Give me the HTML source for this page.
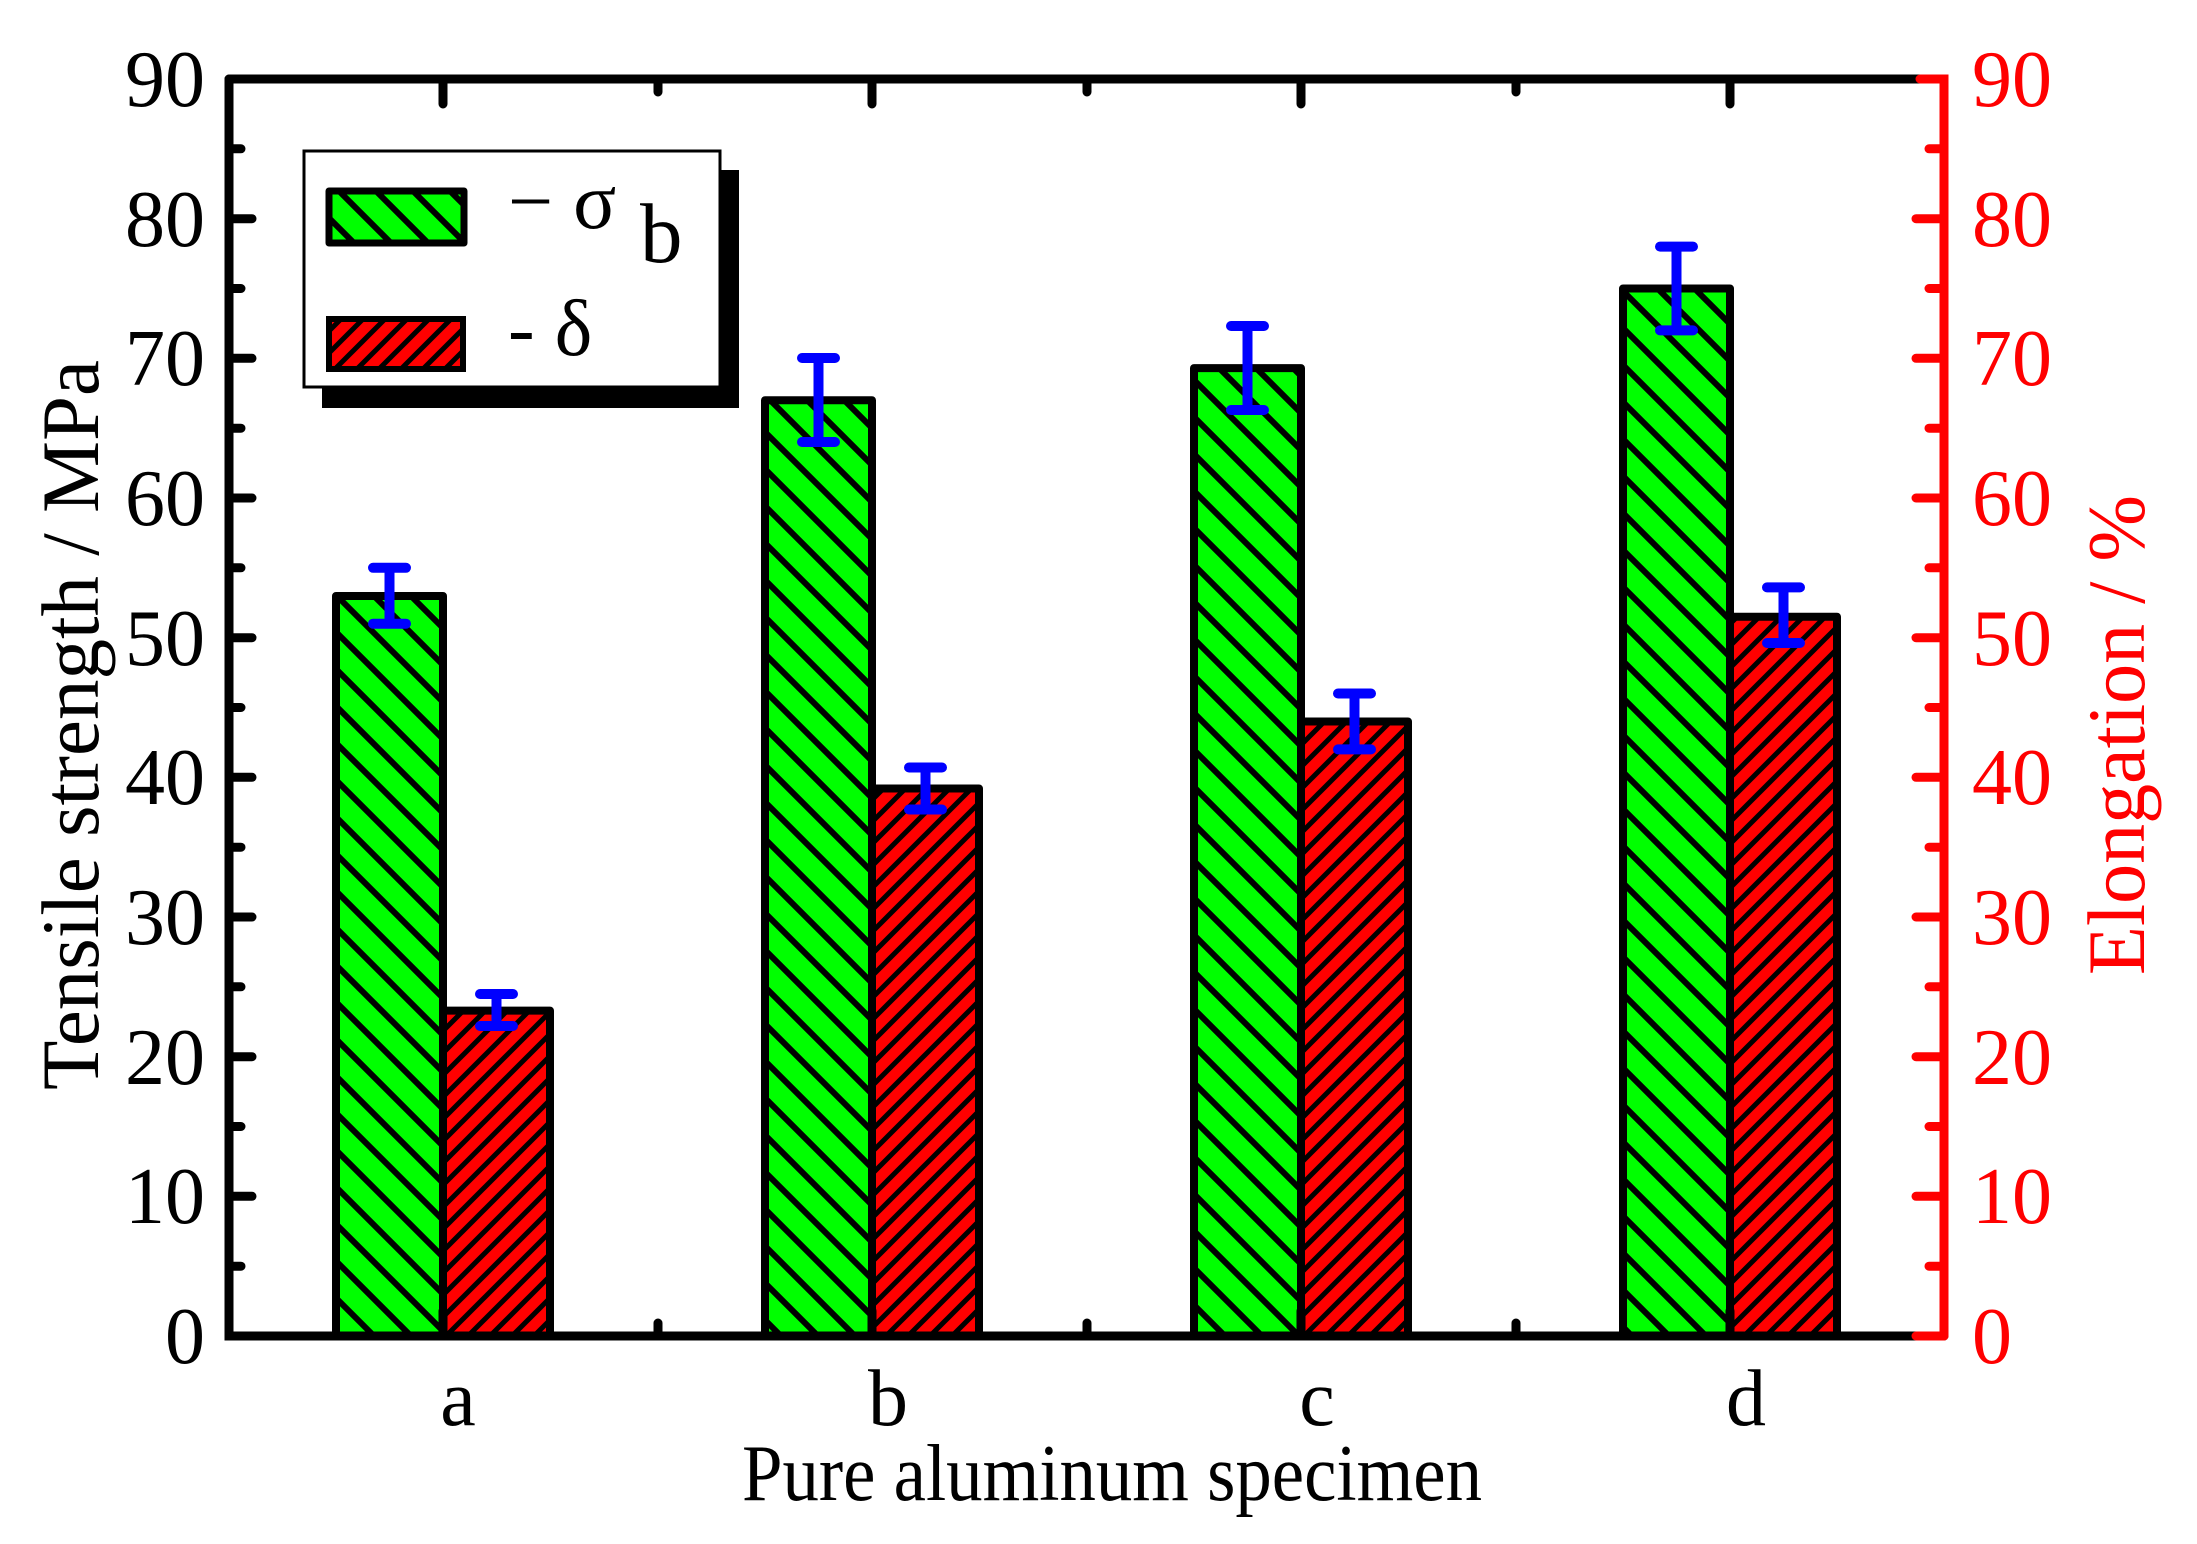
<!DOCTYPE html>
<html><head><meta charset="utf-8"><style>
html,body{margin:0;padding:0;background:#fff;}
svg{display:block;}
text{font-family:"Liberation Serif","Times New Roman",serif;}
</style></head><body>
<svg width="2197" height="1544" viewBox="0 0 2197 1544" xmlns="http://www.w3.org/2000/svg">
<defs>
<pattern id="hg" patternUnits="userSpaceOnUse" width="37" height="37">
<rect width="37" height="37" fill="#00ff00"/>
<path d="M-5,-5 L42,42 M-5,32 L5,42 M32,-5 L42,5" stroke="#000" stroke-width="6"/>
</pattern>
<pattern id="hr" patternUnits="userSpaceOnUse" width="22" height="22">
<rect width="22" height="22" fill="#ff0000"/>
<path d="M-4,26 L26,-4 M-4,4 L4,-4 M18,26 L26,18" stroke="#000" stroke-width="5"/>
</pattern>
</defs>

<g stroke="#000" stroke-width="8" stroke-linejoin="round">
<rect x="336" y="596" width="107" height="740" fill="url(#hg)"/>
<rect x="443" y="1010.6" width="107" height="325.4" fill="url(#hr)"/>
<rect x="765" y="400.2" width="107" height="935.8" fill="url(#hg)"/>
<rect x="872" y="788.5" width="107" height="547.5" fill="url(#hr)"/>
<rect x="1194" y="368.1" width="107" height="967.9" fill="url(#hg)"/>
<rect x="1301" y="721.5" width="107" height="614.5" fill="url(#hr)"/>
<rect x="1623" y="288.5" width="107" height="1047.5" fill="url(#hg)"/>
<rect x="1730" y="616.7" width="107" height="719.3" fill="url(#hr)"/>
</g>

<g stroke="#0000ff" stroke-width="10" stroke-linecap="round" fill="none">
<path d="M389.5,623.7V567.8M373,623.7H406M373,567.8H406"/>
<path d="M496.5,1026V994M480,1026H513M480,994H513"/>
<path d="M818.5,442V358M802,442H835M802,358H835"/>
<path d="M925.5,809.5V767.5M909,809.5H942M909,767.5H942"/>
<path d="M1247.5,410V326M1231,410H1264M1231,326H1264"/>
<path d="M1354.5,749.4V693.5M1338,749.4H1371M1338,693.5H1371"/>
<path d="M1676.5,330.4V246.6M1660,330.4H1693M1660,246.6H1693"/>
<path d="M1783.5,643V587.4M1767,643H1800M1767,587.4H1800"/>
</g>

<g stroke="#000" stroke-width="9" stroke-linecap="round" fill="none">
<path d="M229,79V1336H1944"/>
<path d="M229,79H1920"/>
<path d="M229,1196.3h23M229,1056.7h23M229,917h23M229,777.3h23M229,637.7h23M229,498h23M229,358.3h23M229,218.7h23
M229,1266.2h12M229,1126.5h12M229,986.8h12M229,847.2h12M229,707.5h12M229,567.8h12M229,428.2h12M229,288.5h12M229,148.8h12"/>
<path d="M443,79v25M872,79v25M1301,79v25M1730,79v25M658,79v13M1087,79v13M1516,79v13"/>
<path d="M443,1336v-25M872,1336v-25M1301,1336v-25M1730,1336v-25M658,1336v-13M1087,1336v-13M1516,1336v-13"/>
</g>
<g stroke="#ff0000" stroke-width="9" stroke-linecap="round" fill="none">
<path d="M1920,79H1944V1336"/>
<path d="M1944,1196.3h-28M1944,1056.7h-28M1944,917h-28M1944,777.3h-28M1944,637.7h-28M1944,498h-28M1944,358.3h-28M1944,218.7h-28M1944,1336h-28
M1944,1266.2h-15M1944,1126.5h-15M1944,986.8h-15M1944,847.2h-15M1944,707.5h-15M1944,567.8h-15M1944,428.2h-15M1944,288.5h-15M1944,148.8h-15"/>
</g>

<g font-size="80" text-anchor="end" fill="#000">
<text x="205" y="1363">0</text>
<text x="205" y="1223">10</text>
<text x="205" y="1084">20</text>
<text x="205" y="944">30</text>
<text x="205" y="804">40</text>
<text x="205" y="665">50</text>
<text x="205" y="525">60</text>
<text x="205" y="385">70</text>
<text x="205" y="246">80</text>
<text x="205" y="106">90</text>
</g>
<g font-size="80" text-anchor="start" fill="#ff0000">
<text x="1972" y="1363">0</text>
<text x="1972" y="1223">10</text>
<text x="1972" y="1084">20</text>
<text x="1972" y="944">30</text>
<text x="1972" y="804">40</text>
<text x="1972" y="665">50</text>
<text x="1972" y="525">60</text>
<text x="1972" y="385">70</text>
<text x="1972" y="246">80</text>
<text x="1972" y="106">90</text>
</g>

<g font-size="80" text-anchor="middle">
<text x="458" y="1425">a</text>
<text x="888" y="1425">b</text>
<text x="1317" y="1425">c</text>
<text x="1746" y="1425">d</text>
</g>
<text x="1112" y="1500" font-size="80" text-anchor="middle" textLength="740" lengthAdjust="spacingAndGlyphs">Pure aluminum specimen</text>

<text transform="translate(98,725) rotate(-90)" font-size="82" text-anchor="middle" textLength="730" lengthAdjust="spacingAndGlyphs">Tensile strength / MPa</text>
<text transform="translate(2144,735) rotate(-90)" font-size="82" text-anchor="middle" fill="#ff0000" textLength="480" lengthAdjust="spacingAndGlyphs">Elongation / %</text>

<rect x="322" y="170" width="417" height="238" fill="#000"/>
<rect x="304" y="151" width="416" height="236" fill="#fff" stroke="#000" stroke-width="3"/>
<rect x="329" y="191" width="135" height="52" fill="url(#hg)" stroke="#000" stroke-width="7" stroke-linejoin="round"/>
<rect x="329" y="319" width="134" height="50" fill="url(#hr)" stroke="#000" stroke-width="6"/>
<text x="508" y="228" font-size="80">− σ</text>
<text x="640" y="262" font-size="85">b</text>
<text x="508" y="355" font-size="80">- δ</text>
</svg>
</body></html>
